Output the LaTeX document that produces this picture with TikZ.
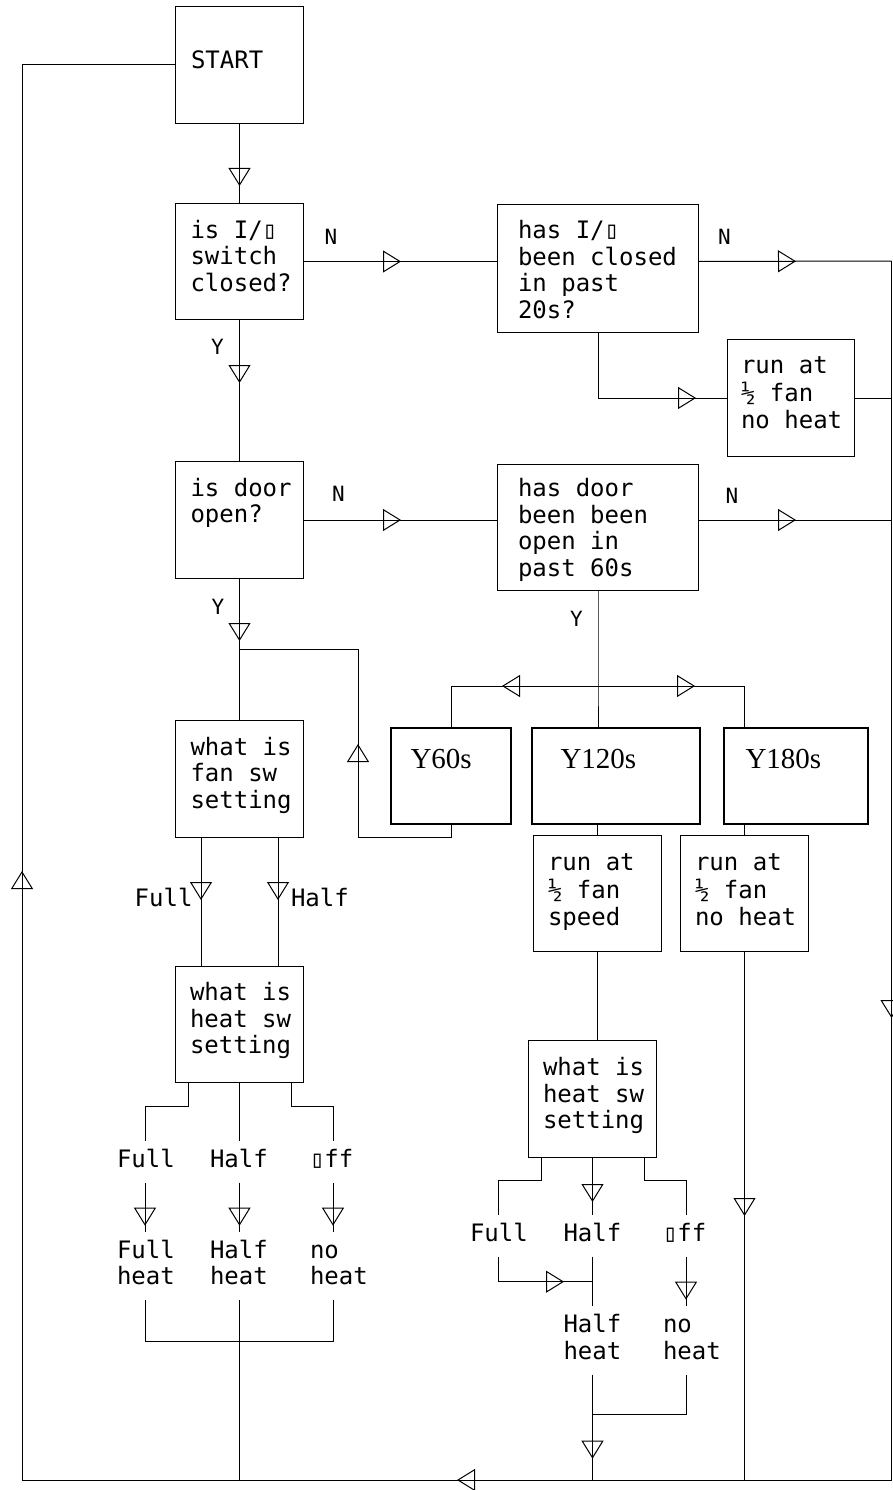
\documentclass[tikz,border=0pt]{standalone}
\usepackage{fontspec}
\newfontfamily\cadfont{DejaVu Sans Mono}
\newfontfamily\timesfont{Liberation Serif}
\usetikzlibrary{arrows.meta, decorations.markings}
\tikzset{
  opentri/.tip={Triangle[open, length=18pt, width=22pt]},
  flow-box/.style={draw, line width=1pt, inner sep=0pt, anchor=north west},
  time-box/.style={draw, line width=2pt, inner sep=0pt, anchor=north west},
  box-text/.style={anchor=north west, inner sep=0pt, align=left, font=\cadfont\fontsize{24}{26.7}\selectfont, execute at begin node=\strut},
  sw-text/.style={box-text, inner ysep=7pt},
  time-text/.style={anchor=base west, inner sep=0pt, font=\timesfont\fontsize{29}{32}\selectfont},
  yn-text/.style={inner sep=0pt, font=\cadfont\fontsize{21}{24}\selectfont},
  tri at/.style={postaction={decorate}, decoration={markings, mark=at position #1 with {\arrow{opentri}}}},
}

\begin{document}
\begin{tikzpicture}[x=1pt, y=-1pt, line width=1pt]%Oven control flow
\useasboundingbox (0,0) rectangle (892,1490);
% boxes
\node[flow-box, minimum width=128pt, minimum height=117pt] (start) at (175,6) {};
\node[box-text] (start-txt) at ([shift={(15.5,43.5)}]start.north west) {START};
\node[flow-box, minimum width=128pt, minimum height=116pt] (qsw) at (175,203) {};
\node[box-text] (qsw-txt) at ([shift={(15,16)}]qsw.north west) {\strut is I/▯\\switch\\closed?};
\node[flow-box, minimum width=201pt, minimum height=128pt] (pastsw) at (497,204) {};
\node[box-text] (pastsw-txt) at ([shift={(20.5,15.3)}]pastsw.north west) {\strut has I/▯\\been closed\\in past\\20s?};
\node[flow-box, minimum width=127pt, minimum height=117pt] (run1) at (727,339) {};
\node[box-text] (run1-txt) at ([shift={(13.5,15.3)}]run1.north west) {\strut run at\\½ fan\\no heat};
\node[flow-box, minimum width=128pt, minimum height=117pt] (qdoor) at (175,461) {};
\node[box-text] (qdoor-txt) at ([shift={(15,16)}]qdoor.north west) {\strut is door\\open?};
\node[flow-box, minimum width=201pt, minimum height=126pt] (pastdoor) at (497,464) {};
\node[box-text] (pastdoor-txt) at ([shift={(20.5,13.3)}]pastdoor.north west) {\strut has door\\been been\\open in\\past 60s};
\node[flow-box, minimum width=128pt, minimum height=117pt] (fansw) at (175,720) {};
\node[box-text] (fansw-txt) at ([shift={(15,16)}]fansw.north west) {\strut what is\\fan sw\\setting};
\node[flow-box, minimum width=128pt, minimum height=116pt] (heatsw1) at (175,966) {};
\node[box-text] (heatsw1-txt) at ([shift={(14.5,15.3)}]heatsw1.north west) {\strut what is\\heat sw\\setting};
\node[time-box, minimum width=120pt, minimum height=96pt] (y60) at (390,727) {};
\node[time-text] (y60-txt) at ([shift={(20,41)}]y60.north west) {Y60s};
\node[time-box, minimum width=168pt, minimum height=96pt] (y120) at (531,727) {};
\node[time-text] (y120-txt) at ([shift={(29,41)}]y120.north west) {Y120s};
\node[time-box, minimum width=144pt, minimum height=96pt] (y180) at (723,727) {};
\node[time-text] (y180-txt) at ([shift={(22,41)}]y180.north west) {Y180s};
\node[flow-box, minimum width=128pt, minimum height=116pt] (run2) at (533,835) {};
\node[box-text] (run2-txt) at ([shift={(14.5,16.3)}]run2.north west) {\strut run at\\½ fan\\speed};
\node[flow-box, minimum width=128pt, minimum height=116pt] (run3) at (680,835) {};
\node[box-text] (run3-txt) at ([shift={(14.5,16.3)}]run3.north west) {\strut run at\\½ fan\\no heat};
\node[flow-box, minimum width=128pt, minimum height=117pt] (heatsw2) at (528,1040) {};
\node[box-text] (heatsw2-txt) at ([shift={(14.5,16.3)}]heatsw2.north west) {\strut what is\\heat sw\\setting};
% switch settings
\node[box-text, anchor=base east] (fan-full) at (193,906.7) {Full};
\node[box-text, anchor=base west] (fan-half) at (290.5,906.7) {Half};
\node[sw-text] (h1-full) at (116.5,1141) {Full};
\node[sw-text] (h1-half) at (209.5,1141) {Half};
\node[sw-text] (h1-off) at (309.5,1141) {▯ff};
\node[sw-text] (h1-fullheat) at (116.5,1232) {\strut Full\\heat};
\node[sw-text] (h1-halfheat) at (209.5,1232) {\strut Half\\heat};
\node[sw-text] (h1-noheat) at (309.5,1232) {\strut no\\heat};
\node[sw-text] (h2-full) at (469.5,1215) {Full};
\node[sw-text] (h2-half) at (563,1215) {Half};
\node[sw-text] (h2-off) at (662.5,1215) {▯ff};
\node[sw-text] (h2-halfheat) at (563,1306.3) {\strut Half\\heat};
\node[sw-text] (h2-noheat) at (662.5,1306.3) {\strut no\\heat};
% Y / N
\node[yn-text] (n-sw) at ([shift={(27,-25)}]qsw.east) {N};
\node[yn-text] (n-pastsw) at (724.5,237) {N};
\node[yn-text] (n-door) at ([shift={(34.5,0)}]qdoor.east |- 0,494) {N};
\node[yn-text] (n-pastdoor) at (732,495.5) {N};
\node[yn-text] (y-sw) at ([shift={(-22,26.5)}]qsw.south) {Y};
\node[yn-text] (y-door) at ([shift={(-21.5,27.5)}]qdoor.south) {Y};
\node[yn-text] (y-pastdoor) at ([shift={(-21.5,28)}]pastdoor.south) {Y};
% return rails
\coordinate (rail-top) at (891.5,261);
\coordinate (rail-bottom) at (891.5,1480);
\coordinate (rail-left) at (22,1480);
\coordinate (fan-join) at ([shift={(0,70)}]qdoor.south);
\coordinate (y-join) at ([shift={(0,95)}]pastdoor.south);
% connectors
\draw[tri at=62pt] (start.south) -- (qsw.north);
\draw[tri at=97pt] (qsw.east) -- (qsw.east -| pastsw.west);
\draw[tri at=97pt] (pastsw.east |- qsw.east) -- (rail-top);
\draw[tri at=163pt] (pastsw.south) |- (run1.west);
\draw (run1.east) -- (run1.east -| rail-top);
\draw[tri at=63pt] (qsw.south) -- (qdoor.north);
\draw[tri at=97pt] (qdoor.east) -- (qdoor.east -| pastdoor.west);
\draw[tri at=97pt] (pastdoor.east |- qdoor.east) -- (qdoor.east -| rail-top);
\draw[tri at=62pt] (qdoor.south) -- (fansw.north);
\draw[tri at=198pt] (y60.south) -- ++(0,12) -- ++(-93,0) |- (fan-join);
\draw (pastdoor.south) -- (y-join) -- (y-join |- y120.north);
\draw[tri at=96pt] (y-join) -| (y60.north);
\draw[tri at=97pt] (y-join) -| (run3.north |- y180.north);
\draw (run2.north |- y120.south) -- (run2.north);
\draw (run3.north |- y180.south) -- (run3.north);
\draw (run2.south) -- (run2.south |- heatsw2.north);
\draw[tri at=264pt] (run3.south) -- (run3.south |- rail-bottom);
% fan setting
\draw[tri at=62pt] ([xshift=26pt]fansw.south west) -- ([xshift=26pt]heatsw1.north west);
\draw[tri at=62pt] ([xshift=-26pt]fansw.south east) -- ([xshift=-26pt]heatsw1.north east);
% heat setting, left
\draw ([xshift=13pt]heatsw1.south west) -- ++(0,23) -| ([xshift=28.5pt]h1-full.north west);
\draw (heatsw1.south) -- (heatsw1.south |- h1-half.north);
\draw ([xshift=-13pt]heatsw1.south east) -- ++(0,23) -| ([xshift=23.5pt]h1-off.north west);
\draw[tri at=43pt] ([xshift=28.5pt]h1-full.south west) -- ([xshift=28.5pt]h1-fullheat.north west);
\draw[tri at=43pt] (heatsw1.south |- h1-half.south) -- (heatsw1.south |- h1-halfheat.north);
\draw[tri at=43pt] ([xshift=23.5pt]h1-off.south west) -- ([xshift=23.5pt]h1-noheat.north west);
\draw ([xshift=28.5pt]h1-fullheat.south west) -- ++(0,41) -| ([xshift=23.5pt]h1-noheat.south west);
\draw (heatsw1.south |- h1-halfheat.south) -- (heatsw1.south |- rail-bottom);
% heat setting, right
\draw ([xshift=13pt]heatsw2.south west) -- ++(0,22) -| ([xshift=28.5pt]h2-full.north west);
\draw[tri at=44pt] (heatsw2.south) -- (heatsw2.south |- h2-half.north);
\draw ([xshift=-13pt]heatsw2.south east) -- ++(0,22) -| ([xshift=23.5pt]h2-off.north west);
\draw[tri at=91pt] ([xshift=28.5pt]h2-full.south west) -- ++(0,25) -- ++(94,0);
\draw (heatsw2.south |- h2-half.south) -- (heatsw2.south |- h2-halfheat.north);
\draw[tri at=43pt] ([xshift=23.5pt]h2-off.south west) -- ([xshift=23.5pt]h2-noheat.north west);
\draw[tri at=84pt] (heatsw2.south |- h2-halfheat.south) -- (heatsw2.south |- rail-bottom);
\draw ([xshift=23.5pt]h2-noheat.south west) -- ++(0,40) -- ++(-94,0);
% back to start
\draw[tri at=757pt] (rail-top) -- (rail-bottom);
\draw[tri at=434.5pt] (rail-bottom) -- (rail-left);
\draw[tri at=609pt] (rail-left) |- (start.west);
\end{tikzpicture}
\end{document}
